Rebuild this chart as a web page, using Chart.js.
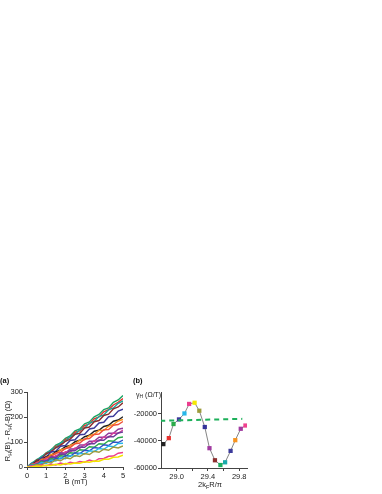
<!DOCTYPE html>
<html>
<head>
<meta charset="utf-8">
<script src="https://cdn.jsdelivr.net/npm/chart.js@4.4.1/dist/chart.umd.min.js"></script>
<style>
  html, body { margin: 0; padding: 0; background: #fff; }
  body { width: 382px; height: 494px; position: relative; overflow: hidden; }
  .panel { position: absolute; top: 370px; width: 130px; height: 124px; }
  #boxA { left: 0; }
  #boxB { left: 130px; }
</style>
</head>
<body>
<div class="panel" id="boxA"><canvas id="chartA"></canvas></div>
<div class="panel" id="boxB"><canvas id="chartB"></canvas></div>
<script>
// ---- panel (a): R_H(B) - R_H(-B) vs B ----
const fieldB = [0, 0.25, 0.5, 0.75, 1, 1.25, 1.5, 1.75, 2, 2.25, 2.5, 2.75, 3, 3.25, 3.5, 3.75, 4, 4.25, 4.5, 4.75, 5];

const curveGreen   = [0, 14, 30, 40, 57, 68, 88, 96, 115, 124, 145, 152, 173, 180, 201, 210, 230, 236, 259, 268, 286];
const curveRed     = [0, 10, 27, 36, 55, 64, 83, 90, 110, 118, 139, 144, 166, 172, 193, 200, 221, 229, 248, 259, 274];
const curveTeal    = [0, 17, 25, 43, 51, 70, 77, 97, 103, 122, 130, 149, 156, 176, 182, 202, 208, 229, 236, 255, 264];
const curveBrown   = [0, 9, 27, 33, 53, 60, 77, 86, 103, 111, 131, 135, 156, 160, 181, 186, 206, 211, 233, 240, 257];
const curveNavy    = [0, 13, 17, 36, 40, 60, 63, 83, 86, 106, 109, 129, 131, 152, 156, 176, 179, 201, 203, 224, 231];
const curveBlack   = [0, 7, 21, 27, 41, 47, 61, 68, 81, 86, 101, 107, 121, 127, 143, 147, 162, 167, 183, 188, 201];
const curveOrange  = [0, 11, 14, 30, 33, 50, 52, 69, 73, 86, 93, 108, 109, 125, 131, 146, 147, 163, 170, 184, 190];
const curveVermil  = [0, 5, 19, 22, 38, 41, 56, 59, 74, 78, 93, 96, 112, 114, 130, 132, 149, 150, 167, 170, 182];
const curvePurple  = [0, 9, 11, 26, 25, 41, 41, 57, 56, 72, 72, 88, 88, 103, 103, 119, 119, 135, 135, 151, 155];
const curveMagenta = [0, 3, 16, 17, 31, 31, 46, 46, 61, 60, 76, 75, 90, 90, 105, 104, 120, 119, 136, 135, 148];
const curveViolet  = [0, 9, 10, 24, 23, 38, 37, 52, 51, 66, 65, 80, 79, 94, 93, 108, 107, 122, 121, 136, 140];
const curveGreen2  = [0, 8, 8, 21, 19, 33, 31, 45, 43, 57, 55, 69, 67, 81, 79, 93, 91, 105, 103, 117, 120];
const curveBlue    = [0, 2, 13, 12, 25, 22, 35, 33, 46, 43, 57, 54, 67, 65, 78, 75, 89, 86, 100, 98, 108];
const curveCyan    = [0, 7, 6, 18, 14, 27, 24, 37, 33, 46, 43, 55, 52, 65, 62, 74, 71, 84, 81, 94, 95];
const curveOlive   = [0, 1, 11, 8, 20, 16, 29, 25, 37, 33, 46, 42, 54, 50, 63, 59, 71, 67, 80, 76, 84];
const curvePink    = [0, 5, 3, 8, 5, 11, 8, 16, 10, 19, 15, 22, 19, 28, 22, 33, 34, 43, 44, 55, 58];
const curveYellow  = [0, 1, 4, 3, 7, 6, 11, 8, 14, 12, 16, 15, 21, 19, 24, 23, 31, 31, 39, 40, 47];

const curvesA = [curveYellow, curvePink, curveOlive, curveCyan, curveBlue, curveGreen2, curveViolet,
  curveMagenta, curvePurple, curveVermil, curveOrange, curveBlack, curveNavy, curveBrown, curveTeal, curveRed, curveGreen];
const coloursA = ['#f2e400', '#ec3d8f', '#9c9b3b', '#27b6ea', '#3051c4', '#2bab4a', '#6c3d99',
  '#d43f9c', '#92399a', '#ef4f3a', '#f7931e', '#222222', '#3c3b9b', '#8c2d2d', '#17a89c', '#e8312f', '#1aa363'];
const ticksAx = [0, 1, 2, 3, 4, 5];
const ticksAy = [0, 100, 200, 300];

// ---- panel (b): gamma_H vs 2kF R / pi ----
const kfR = [28.83, 28.90, 28.96, 29.03, 29.10, 29.16, 29.23, 29.29, 29.36, 29.42, 29.49, 29.56, 29.62, 29.69, 29.75, 29.82, 29.88];
const gammaH = [-42400, -38000, -27600, -24200, -19800, -12800, -11900, -17800, -29800, -45400, -54300, -57800, -55800, -47400, -39500, -31100, -28700];
const pointColoursB = ['#222222', '#e8312f', '#2bab4a', '#3c3b9b', '#27b6ea', '#ec3d8f', '#f6e800', '#9c9b3b', '#333399',
  '#a03aa0', '#8c2d2d', '#19ad5e', '#17aaaa', '#3c3b9b', '#f7931e', '#a03aa0', '#f0418f'];
const meanX = [28.79, 29.84];
const meanY = [-25200, -23800];
const ticksBx = [29.0, 29.2, 29.4, 29.6, 29.8];
const labelsBx = [29.0, 29.4, 29.8];
const ticksBy = [-60000, -40000, -20000];

const FONT = "'Liberation Sans', Arial, sans-serif";
const axisColour = '#444';

// draws text with subscripts, parts = [[text, isSub], ...]
function drawRich(ctx, parts, x, y, size, rot, align) {
  ctx.save();
  ctx.translate(x, y);
  if (rot) ctx.rotate(rot);
  ctx.fillStyle = '#222';
  ctx.textBaseline = 'middle';
  ctx.textAlign = 'left';
  const subSize = size * 0.72;
  let total = 0;
  parts.forEach(([t, sub]) => {
    ctx.font = (sub ? subSize : size) + 'px ' + FONT;
    total += ctx.measureText(t).width;
  });
  let cx = align === 'left' ? 0 : -total / 2;
  parts.forEach(([t, sub]) => {
    ctx.font = (sub ? subSize : size) + 'px ' + FONT;
    ctx.fillText(t, cx, sub ? size * 0.3 : 0);
    cx += ctx.measureText(t).width;
  });
  ctx.restore();
}

const textPlugin = (items) => ({
  id: 'extraText',
  afterDraw(chart) {
    const ctx = chart.ctx;
    items.forEach(it => {
      if (it.bold) {
        ctx.save();
        ctx.font = 'bold ' + it.size + 'px ' + FONT;
        ctx.fillStyle = '#111';
        ctx.textBaseline = 'middle';
        ctx.fillText(it.text, it.x, it.y);
        ctx.restore();
      } else {
        drawRich(ctx, it.parts, it.x, it.y, it.size, it.rot || 0, it.align);
      }
    });
  }
});

const axisStyle = (extra) => Object.assign({
  type: 'linear',
  grid: { drawOnChartArea: false, drawTicks: true, tickLength: 3, color: axisColour },
  border: { display: true, color: axisColour, width: 1 }
}, extra);

const tickFont = { family: FONT, size: 7.5 };

// ========== panel (a) ==========
new Chart(document.getElementById('chartA'), {
  type: 'line',
  data: {
    datasets: curvesA.map((vals, i) => ({
      data: fieldB.map((b, j) => ({ x: b, y: vals[j] })),
      borderColor: coloursA[i],
      borderWidth: 1.4,
      pointRadius: 0,
      tension: 0
    }))
  },
  options: {
    responsive: true,
    maintainAspectRatio: false,
    animation: false,
    layout: { padding: { left: 0, top: 22, right: 7, bottom: 0 } },
    plugins: { legend: { display: false }, tooltip: { enabled: false } },
    scales: {
      x: axisStyle({
        min: 0, max: 5,
        afterBuildTicks: s => { s.ticks = ticksAx.map(v => ({ value: v })); },
        afterFit: s => { s.height = 27; },
        ticks: { color: '#222', font: tickFont, padding: 1, maxRotation: 0, autoSkip: false }
      }),
      y: axisStyle({
        min: 0, max: 300,
        afterBuildTicks: s => { s.ticks = ticksAy.map(v => ({ value: v })); },
        afterFit: s => { s.width = 27; },
        ticks: { color: '#222', font: tickFont, padding: 1 }
      })
    }
  },
  plugins: [textPlugin([
    { bold: true, text: '(a)', x: 0, y: 11, size: 7.5 },
    { parts: [['R', 0], ['H', 1], ['(B) - R', 0], ['H', 1], ['(-B) (\u03A9)', 0]], x: 8, y: 61, size: 7.5, rot: -Math.PI / 2 },
    { parts: [['B (mT)', 0]], x: 76, y: 112, size: 7.5 }
  ])]
});

// ========== panel (b) ==========
new Chart(document.getElementById('chartB'), {
  type: 'line',
  data: {
    datasets: [
      {
        data: meanX.map((x, i) => ({ x, y: meanY[i] })),
        borderColor: '#1db05a',
        borderWidth: 2,
        borderDash: [5, 4],
        pointRadius: 0
      },
      {
        data: kfR.map((x, i) => ({ x, y: gammaH[i] })),
        borderColor: '#666',
        borderWidth: 0.8,
        pointStyle: 'rect',
        pointRadius: 3,
        pointBorderWidth: 0,
        pointBackgroundColor: pointColoursB,
        pointBorderColor: pointColoursB,
        tension: 0
      }
    ]
  },
  options: {
    responsive: true,
    maintainAspectRatio: false,
    animation: false,
    layout: { padding: { left: 0, top: 22, right: 13, bottom: 0 } },
    plugins: { legend: { display: false }, tooltip: { enabled: false } },
    scales: {
      x: axisStyle({
        min: 28.8, max: 29.9,
        afterBuildTicks: s => { s.ticks = ticksBx.map(v => ({ value: v })); },
        afterFit: s => { s.height = 26; },
        ticks: {
          color: '#222', font: tickFont, padding: 1, maxRotation: 0, autoSkip: false,
          callback: v => labelsBx.some(l => Math.abs(l - v) < 1e-6) ? v.toFixed(1) : ''
        }
      }),
      y: axisStyle({
        min: -60000, max: -4000,
        afterBuildTicks: s => { s.ticks = ticksBy.map(v => ({ value: v })); },
        afterFit: s => { s.width = 31; },
        ticks: { color: '#222', font: tickFont, padding: 1, callback: v => String(v) }
      })
    }
  },
  plugins: [textPlugin([
    { bold: true, text: '(b)', x: 3, y: 11, size: 7.5 },
    { parts: [['\u03B3', 0], ['H', 1], [' (\u03A9/T)', 0]], x: 6, y: 25, size: 7, align: 'left' },
    { parts: [['2k', 0], ['F', 1], ['R/\u03C0', 0]], x: 80, y: 115, size: 7.5 }
  ])]
});
</script>
</body>
</html>
